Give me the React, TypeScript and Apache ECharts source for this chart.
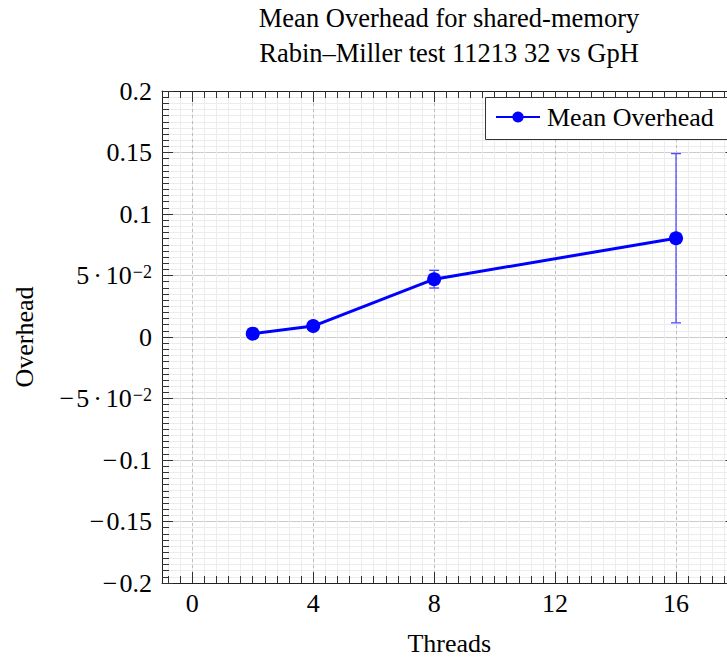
import React, { useEffect, useRef } from "react";
import * as echarts from "echarts";

const titleLines = ["Mean Overhead for shared-memory", "Rabin–Miller test 11213 32 vs GpH"];
const seriesName = "Mean Overhead";
const xAxisName = "Threads";
const yAxisName = "Overhead";
const threads = [2, 4, 8, 16];
const meanOverhead = [0.0027, 0.0089, 0.047, 0.0803];
const errorHalf = [0.0008, 0.0008, 0.0072, 0.0688];
const xMajorTicks = [0, 4, 8, 12, 16];
const yTickLabels = ["−0.2", "−0.15", "−0.1", "−5·10^−2", "0", "5·10^−2", "0.1", "0.15", "0.2"];

const FONT = "'Liberation Serif', 'Times New Roman', serif";

const xMinorTicks: number[] = [];
for (let k = -2; k < 45; k++) xMinorTicks.push(Math.round(k * 0.4 * 1e6) / 1e6);

function yLabel(v: number): string {
  const idx = Math.round((v + 0.2) / 0.05);
  let s = yTickLabels[idx] ?? "";
  let prefix = "";
  if (s.startsWith("−")) {
    prefix = "{m|−}";
    s = s.slice(1);
  }
  if (s.includes("^")) {
    const [base, exp] = s.split("^");
    const [a, b] = base.split("·");
    return `${prefix}{n|${a}}{d|·}{n|${b}}{s|${exp}}`;
  }
  return `${prefix}{n|${s}}`;
}

export default function App() {
  const ref = useRef<HTMLDivElement>(null);
  useEffect(() => {
    if (!ref.current) return;
    const chart = echarts.init(ref.current, undefined, { renderer: "svg" });
    const axisLineStyle = { color: "#222", width: 1 };
    const option: any = {
      animation: false,
      backgroundColor: "#fff",
      title: {
        text: titleLines.join("\n"),
        left: 449,
        top: 0,
        padding: 0,
        textAlign: "center",
        textStyle: { fontFamily: FONT, fontSize: 26.5, fontWeight: "normal", color: "#000", lineHeight: 35 },
      },
      graphic: [
        {
          type: "rect",
          z: 100,
          shape: { x: 485.5, y: 97.5, width: 270, height: 42 },
          style: { fill: "#fff", stroke: "#333", lineWidth: 1 },
        },
      ],
      legend: {
        data: [seriesName],
        left: 485,
        top: 97,
        z: 101,
        padding: [7, 10, 7, 10],
        itemWidth: 44,
        itemHeight: 14,
        borderWidth: 0,
        backgroundColor: "transparent",
        textStyle: { fontFamily: FONT, fontSize: 26, color: "#000", padding: [0, 0, 0, 2] },
      },
      grid: { left: 162, top: 91, width: 574.5, height: 494.7, containLabel: false },
      xAxis: [
        {
          type: "value",
          position: "bottom",
          min: -1,
          max: 18,
          name: xAxisName,
          nameLocation: "middle",
          nameGap: 47,
          nameTextStyle: { fontFamily: FONT, fontSize: 26, color: "#000" },
          axisLine: { show: true, onZero: false, lineStyle: axisLineStyle },
          axisTick: { show: true, inside: true, length: 7, customValues: xMinorTicks, lineStyle: { color: "#333" } },
          axisLabel: { show: true, customValues: xMajorTicks, margin: 7, fontFamily: FONT, fontSize: 26, color: "#000" },
          splitLine: { show: true, lineStyle: { color: "#ececec", width: 1, type: "solid" } },
        },
        {
          type: "value",
          position: "bottom",
          min: -1,
          max: 18,
          axisLine: { show: false, onZero: false },
          axisTick: { show: true, inside: true, length: 11, customValues: xMajorTicks, lineStyle: { color: "#333" } },
          axisLabel: { show: false },
          splitLine: { show: true, lineStyle: { color: "#bdbdbd", width: 1, type: [3, 3] } },
        },
        {
          type: "value",
          position: "top",
          min: -1,
          max: 18,
          axisLine: { show: true, onZero: false, lineStyle: axisLineStyle },
          axisTick: { show: true, inside: true, length: 7, customValues: xMinorTicks, lineStyle: { color: "#333" } },
          axisLabel: { show: false },
          splitLine: { show: false },
        },
        {
          type: "value",
          position: "top",
          min: -1,
          max: 18,
          axisLine: { show: false, onZero: false },
          axisTick: { show: true, inside: true, length: 11, customValues: xMajorTicks, lineStyle: { color: "#333" } },
          axisLabel: { show: false },
          splitLine: { show: false },
        },
      ],
      yAxis: [
        {
          type: "value",
          position: "left",
          min: -0.2,
          max: 0.2,
          interval: 0.05,
          name: yAxisName,
          nameLocation: "middle",
          nameGap: 125,
          nameTextStyle: { fontFamily: FONT, fontSize: 26, color: "#000" },
          axisLine: { show: true, onZero: false, lineStyle: axisLineStyle },
          axisTick: { show: true, inside: true, length: 11, lineStyle: { color: "#333" } },
          minorTick: { show: true, splitNumber: 10, length: 7, lineStyle: { color: "#333" } },
          axisLabel: {
            show: true,
            margin: 10,
            formatter: (v: number) => yLabel(v),
            rich: {
              m: { fontFamily: FONT, fontSize: 26, color: "#000", lineHeight: 26, padding: [0, 2, 0, 2] },
              n: { fontFamily: FONT, fontSize: 26, color: "#000", lineHeight: 26 },
              d: { fontFamily: FONT, fontSize: 26, color: "#000", lineHeight: 26, padding: [0, 4, 0, 4] },
              s: { fontFamily: FONT, fontSize: 18, color: "#000", lineHeight: 18, verticalAlign: "top", padding: [0, 0, 0, 1] },
            },
          },
          splitLine: { show: true, lineStyle: { color: "#cccccc", width: 1 } },
          minorSplitLine: { show: true, lineStyle: { color: "#ececec", width: 1 } },
        },
        {
          type: "value",
          position: "right",
          min: -0.2,
          max: 0.2,
          interval: 0.05,
          axisLine: { show: true, onZero: false, lineStyle: axisLineStyle },
          axisTick: { show: true, inside: true, length: 11, lineStyle: { color: "#333" } },
          minorTick: { show: true, splitNumber: 10, length: 7, lineStyle: { color: "#333" } },
          axisLabel: { show: false },
          splitLine: { show: false },
        },
      ],
      series: [
        {
          type: "custom",
          xAxisIndex: 0,
          yAxisIndex: 0,
          z: 1,
          encode: { x: 0, y: [1, 2] },
          data: threads.map((t, i) => [t, meanOverhead[i] - errorHalf[i], meanOverhead[i] + errorHalf[i]]),
          renderItem: (_params: any, api: any) => {
            const x = api.value(0);
            const lo = api.coord([x, api.value(1)]);
            const hi = api.coord([x, api.value(2)]);
            const w = 5;
            const style = { stroke: "#4d4dff", lineWidth: 1.3, fill: "none" };
            return {
              type: "group",
              children: [
                { type: "line", shape: { x1: lo[0], y1: lo[1], x2: hi[0], y2: hi[1] }, style },
                { type: "line", shape: { x1: lo[0] - w, y1: lo[1], x2: lo[0] + w, y2: lo[1] }, style },
                { type: "line", shape: { x1: hi[0] - w, y1: hi[1], x2: hi[0] + w, y2: hi[1] }, style },
              ],
            };
          },
        },
        {
          name: seriesName,
          type: "line",
          xAxisIndex: 0,
          yAxisIndex: 0,
          z: 3,
          data: threads.map((t, i) => [t, meanOverhead[i]]),
          symbol: "circle",
          symbolSize: 14,
          lineStyle: { color: "#0000ff", width: 3 },
          itemStyle: { color: "#0000ff" },
        },
      ],
    };
    chart.setOption(option);
    return () => chart.dispose();
  }, []);
  return (
    <div
      ref={ref}
      style={{ position: "fixed", left: 0, top: 0, width: 760, height: 661, background: "#fff" }}
    />
  );
}
